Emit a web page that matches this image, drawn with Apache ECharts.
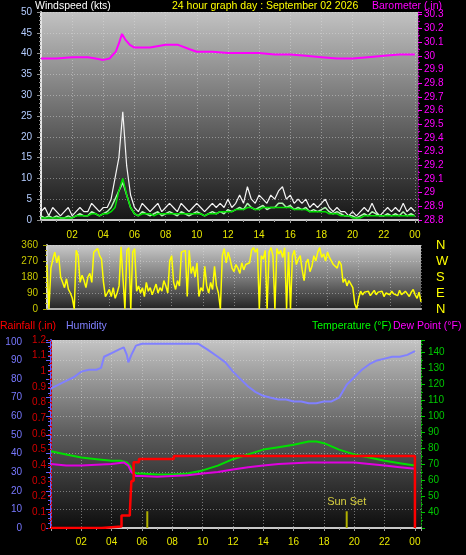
<!DOCTYPE html>
<html><head><meta charset="utf-8">
<script src="https://cdn.jsdelivr.net/npm/echarts@6/dist/echarts.min.js"></script>
<style>html,body{margin:0;padding:0;background:#000;}#c{width:466px;height:555px;}</style>
</head><body><div id="c"></div>
<script>
// ---------- DATA ----------
const WIND_STEP = 0.25; // hours between wind samples
const windGust = [
 2,3,1,3, 2,1,2,3, 1,2,3,2, 2,4,3,2, 3,3,5,10, 15,26,13,6,
 3,2,4,3, 2,3,4,2, 3,4,3,2, 4,3,2,3, 4,3,2,3, 4,3,4,3,
 5,3,4,6, 4,8,5,4, 6,5,4,6, 5,7,8,5, 6,4,5,4, 5,3,4,3,
 4,5,3,2, 3,2,2,1, 2,1,2,3, 2,4,2,1, 2,3,2,3, 2,4,2,3, 2];
const windAvg = [
 1,0.5,1,0.5, 1,0.5,0.5,1, 0.5,1,1.5,1, 1,2,1.5,1, 1.5,2,3,5, 7,9,6,3,
 1.5,1,2,1.5, 1,1.5,2,1, 1.5,2,1.5,1, 2,1.5,1,1.5, 2,1.5,1,1.5, 2,1.5,2,1.5,
 2.5,2,2.5,3, 2.5,4,3,2.5, 3,3.5,2.5,3, 3,4,4,3, 3.5,2.5,3,2.5, 3,2,2.5,2,
 2.5,3,2,1.5, 2,1.5,1,1, 1,0.5,1,1.5, 1,2,1.5,1, 1,1.5,1,1.5, 1,2,1,1.5, 1];
const windSmooth = [
 0.5,0.5,0.5,0.5, 0.5,0.5,0.5,0.5, 0.5,1,1,1, 1,1.5,1.5,1, 1.5,1.5,2,3, 7,10,6,3,
 1.5,1,1.5,1.5, 1.5,1,1.5,1.5, 1.5,1.5,1.5,1.5, 1.5,1.5,1.5,1.5, 1.5,1.5,1,1.5, 1.5,1.5,2,2,
 2,2,2.5,2.5, 2.5,3,3,2.5, 2.5,3,3,3, 3,3,3,3, 3,2.5,2.5,2.5, 2.5,2,2,2,
 2,2,1.5,1.5, 1.5,1,1,1, 0.5,0.5,0.5,1, 1,1,1,1, 1,1,1,1, 1,1,1,1, 1];

const pressHours = [0,1,2,3,3.5,4,4.4,4.8,5.0,5.2,5.4,5.7,6,7,8,8.8,9.5,10,11,12,13,14,15,16,17,18,19,20,21,22,23,24];
const pressVals  = [29.98,29.98,29.99,29.99,29.98,29.97,29.98,30.03,30.09,30.16,30.12,30.08,30.06,30.06,30.08,30.08,30.05,30.03,30.03,30.02,30.02,30.02,30.01,30.01,30.0,29.99,29.98,29.98,29.99,30.0,30.01,30.01];

const DIR_STEP = 0.125; // hours between direction samples
const windDir = [
 250,0,230,280,320,260,300,180,
 150,120,170,110,90,60,0,330,
 300,150,190,160,120,180,200,150,
 320,310,340,300,280,150,70,90,
 110,70,120,60,90,130,350,340,
 0,330,345,0,320,340,100,130,
 90,120,70,150,100,120,80,110,
 140,90,120,100,160,130,90,270,
 300,150,110,160,130,320,310,330,
 70,330,200,240,180,260,70,120,
 100,240,130,90,150,110,240,130,
 90,0,300,340,260,320,280,230,
 210,250,230,200,260,220,250,240,
 260,330,345,320,340,0,300,280,
 330,0,320,345,300,0,340,310,
 330,290,345,0,320,0,300,330,
 250,280,300,220,160,260,280,210,
 240,300,270,320,345,290,310,270,
 320,290,280,250,260,230,270,250,
 150,170,130,160,140,120,30,0,
 60,100,80,95,85,100,75,90,
 105,80,95,85,100,70,90,95,
 80,100,85,95,75,105,80,90,
 100,85,70,95,110,80,60,95,
 40];
const compass = {0:'N',90:'E',180:'S',270:'W',360:'N'};

const humHours = [0,0.5,1,1.5,2,2.5,3,3.3,3.5,4,4.5,4.8,5.0,5.1,5.3,5.6,6,7,8,9,9.7,10.3,11,11.5,12,12.5,13,13.5,14,14.5,15,15.5,16,16.5,17,17.5,18,18.5,19,19.5,20,20.5,21,21.5,22,22.5,23,23.5,24];
const humVals  = [75,77,79,81,84,85,85,86,92,94,96,97,93,89,93,98,99,99,99,99,99,96,92,89,84,80,76,73,71,70,69,69,68,68,67,67,68,68,70,77,81,85,88,90,91,92,92,93,95];

const tempHours = [0,1,2,3,4,4.6,5.0,5.2,5.4,5.7,6,7,8,9,10,11,12,13,14,15,16,17,17.5,18,18.5,19,20,21,22,23,24];
const tempVals  = [78,76,74,73,72,72,71,69,65,64,64,63.5,63.5,64,66,69,73,76,79,80.5,82,84,84,83,81,79,76,74,72,70.5,69];

const dewHours = [0,1,2,3,4,4.8,5.1,5.3,5.6,6,7,8,9,10,11,12,13,14,15,16,17,18,19,20,21,22,23,24];
const dewVals  = [70,69,69,69.5,70,71,69,65,62.5,62.5,62,62.5,63,64,65,66.5,68,69,70,70.5,71,71,71,71,70,69,68,67];

const rainHours = [0,3.35,4.65,5.2,5.3,5.45,5.8,8.1,24,24];
const rainVals  = [0,0.01,0.08,0.1,0.3,0.42,0.44,0.46,0.46,0];

const sunriseHour = 6.35, sunsetHour = 19.5, sunMarkHeight = 9;

// ---------- BUILD ----------
const FONT = '"Liberation Sans", Arial, sans-serif';
const TFONT = '10.5px ' + FONT;
const pair = (xs, ys) => ys.map((v, i) => [xs[i], v]);
const stepped = (ys, step) => ys.map((v, i) => [i * step, v]);
function hourLabel(v){
  if (v > 0 && v <= 24.0001 && Math.abs(v % 2) < 1e-6) { const h = Math.round(v) % 24; return (h < 10 ? '0' : '') + h; }
  return '';
}
function grad(c0, c1, c2){
  return {type:'linear',x:0,y:0,x2:0,y2:1,colorStops:[{offset:0,color:c0},{offset:0.5,color:c1},{offset:1,color:c2}]};
}
const split = {show:true, lineStyle:{color:'rgba(225,225,225,0.45)', type:[1,2], width:1}};
const lbl = (color, extra) => Object.assign({color:color, fontSize:10, fontFamily:FONT}, extra||{});

const chart = echarts.init(document.getElementById('c'), null, {renderer:'canvas'});
chart.setOption({
  backgroundColor:'#000',
  animation:false,
  grid:[
    {left:41, right:48, top:12, height:208, show:true, borderWidth:0, backgroundColor:grad('#c2c2c2','#6a6a6a','#161616')},
    {left:47, right:45, top:245, height:64, show:true, borderWidth:0, backgroundColor:grad('#c8c8c8','#7c7c7c','#242424')},
    {left:51, right:45, top:340, height:188, show:true, borderWidth:0, backgroundColor:grad('#c4c4c4','#5c5c5c','#0e0e0e')}
  ],
  xAxis:[
    {gridIndex:0, type:'value', min:0, max:24.2, interval:2,
     axisLabel:lbl('#e8e800',{formatter:hourLabel, margin:10}),
     axisLine:{show:true, lineStyle:{color:'#c8c8c8', width:2}},
     axisTick:{show:true, length:3, lineStyle:{color:'#a0a0a0'}},
     minorTick:{show:true, splitNumber:2, length:2, lineStyle:{color:'#a0a0a0'}},
     splitLine:split},
    {gridIndex:1, type:'value', min:0, max:24, interval:2,
     axisLabel:{show:false},
     axisLine:{show:true, lineStyle:{color:'#b0b0b0', width:2}},
     axisTick:{show:false},
     splitLine:split},
    {gridIndex:2, type:'value', min:0, max:24.4, interval:2,
     axisLabel:lbl('#e8e800',{formatter:hourLabel, margin:9}),
     axisLine:{show:true, lineStyle:{color:'#c8c8c8', width:2}},
     axisTick:{show:true, length:3, lineStyle:{color:'#a0a0a0'}},
     minorTick:{show:true, splitNumber:2, length:2, lineStyle:{color:'#a0a0a0'}},
     splitLine:split}
  ],
  yAxis:[
    {gridIndex:0, type:'value', position:'left', min:0, max:50, interval:5,
     axisLabel:lbl('#b4ccff',{margin:9}),
     axisLine:{show:true, lineStyle:{color:'#e4e4e4', width:2}},
     axisTick:{show:true, length:4, lineStyle:{color:'#909090'}},
     minorTick:{show:true, splitNumber:5, length:2, lineStyle:{color:'#909090'}},
     splitLine:split},
    {gridIndex:0, type:'value', position:'right', min:28.8, max:30.32, interval:0.1,
     axisLabel:lbl('#ff00ff',{margin:6, formatter:v=>{const r=Math.round(v*10)/10; return r>30.3001?'':r.toFixed(r%1===0?0:1);}}),
     axisLine:{show:true, lineStyle:{color:'#b000b0', width:1, type:[1,2]}},
     axisTick:{show:true, length:4, lineStyle:{color:'#ff00ff'}},
     minorTick:{show:true, splitNumber:2, length:2, lineStyle:{color:'#c000c0'}},
     splitLine:{show:false}},
    {gridIndex:1, type:'value', position:'left', min:0, max:360, interval:90,
     axisLabel:lbl('#c8c800',{margin:9}),
     axisLine:{show:true, lineStyle:{color:'#d0d0d0', width:2}},
     axisTick:{show:true, length:4, lineStyle:{color:'#a0a000'}},
     minorTick:{show:true, splitNumber:3, length:2, lineStyle:{color:'#a0a000'}},
     splitLine:split},
    {gridIndex:1, type:'value', position:'right', min:0, max:360, interval:90,
     axisLabel:{color:'#ffff00', fontSize:13, fontFamily:FONT, margin:15, formatter:v=>compass[Math.round(v)]||''},
     axisLine:{show:false}, axisTick:{show:false}, splitLine:{show:false}},
    {gridIndex:2, type:'value', position:'left', offset:21, min:0, max:101, interval:10,
     axisLabel:lbl('#7878ff',{margin:8, formatter:v=>(v<=100 && Math.abs(v%10)<1e-6)?String(Math.round(v)):''}),
     axisLine:{show:true, lineStyle:{color:'#6464ff', width:2}},
     axisTick:{show:true, length:5, lineStyle:{color:'#6464ff'}},
     minorTick:{show:true, splitNumber:4, length:3, lineStyle:{color:'#6464ff'}},
     splitLine:split},
    {gridIndex:2, type:'value', position:'left', offset:0, min:0, max:1.2, interval:0.1,
     axisLabel:lbl('#d40000',{margin:5, formatter:v=>{const r=Math.round(v*10)/10; return r.toFixed(r%1===0?0:1);}}),
     axisLine:{show:true, lineStyle:{color:'#d40000', width:1, type:[2,2]}},
     axisTick:{show:true, length:3, lineStyle:{color:'#d40000'}},
     minorTick:{show:true, splitNumber:2, length:2, lineStyle:{color:'#d40000'}},
     splitLine:{show:false}},
    {gridIndex:2, type:'value', position:'right', min:30, max:147.5, interval:10,
     axisLabel:lbl('#00c800',{margin:7, formatter:v=>(v>=40 && v<=140 && Math.abs(v%10)<1e-6)?String(Math.round(v)):''}),
     axisLine:{show:true, lineStyle:{color:'#00b000', width:1, type:[1,2]}},
     axisTick:{show:true, length:4, lineStyle:{color:'#00c800'}},
     minorTick:{show:true, splitNumber:2, length:2, lineStyle:{color:'#00b000'}},
     splitLine:{show:false}}
  ],
  graphic:[
    {type:'text', left:35, top:1, style:{text:'Windspeed (kts)', fill:'#ffffff', font:TFONT}},
    {type:'text', left:172, top:1, style:{text:'24 hour graph day : September 02 2026', fill:'#ffff00', font:TFONT}},
    {type:'text', left:372, top:1, style:{text:'Barometer (.in)', fill:'#ff00ff', font:TFONT}},
    {type:'text', left:0, top:321, style:{text:'Rainfall (.in)', fill:'#ff0000', font:TFONT}},
    {type:'text', left:66, top:321, style:{text:'Humidity', fill:'#8080ff', font:TFONT}},
    {type:'text', left:312, top:321, style:{text:'Temperature (°F)', fill:'#00ff00', font:TFONT}},
    {type:'text', left:393, top:321, style:{text:'Dew Point (°F)', fill:'#ff00ff', font:TFONT}}
  ],
  series:[
    {name:'gust', type:'line', xAxisIndex:0, yAxisIndex:0, data:stepped(windGust, WIND_STEP), symbol:'none', lineStyle:{color:'#f4f4f4', width:1.2}, z:2},
    {name:'avg', type:'line', xAxisIndex:0, yAxisIndex:0, data:stepped(windAvg, WIND_STEP), symbol:'none', lineStyle:{color:'#b4f4b4', width:1.5}, z:3},
    {name:'smooth', type:'line', xAxisIndex:0, yAxisIndex:0, data:stepped(windSmooth, WIND_STEP), symbol:'none', lineStyle:{color:'#00e000', width:1.5}, z:4},
    {name:'baro', type:'line', xAxisIndex:0, yAxisIndex:1, data:pair(pressHours, pressVals), symbol:'none', lineStyle:{color:'#ff00ff', width:2}, z:5},
    {name:'dir', type:'line', xAxisIndex:1, yAxisIndex:2, data:stepped(windDir, DIR_STEP), symbol:'none', lineStyle:{color:'#ffff00', width:1.5}},
    {name:'hum', type:'line', xAxisIndex:2, yAxisIndex:4, data:pair(humHours, humVals), symbol:'none', lineStyle:{color:'#8080ff', width:2}},
    {name:'temp', type:'line', xAxisIndex:2, yAxisIndex:6, data:pair(tempHours, tempVals), symbol:'none', lineStyle:{color:'#00e000', width:2}},
    {name:'dew', type:'line', xAxisIndex:2, yAxisIndex:6, data:pair(dewHours, dewVals), symbol:'none', lineStyle:{color:'#e000e0', width:2}},
    {name:'rain', type:'line', xAxisIndex:2, yAxisIndex:5, data:pair(rainHours, rainVals), step:'end', symbol:'none', lineStyle:{color:'#ff0000', width:2.5}, z:6},
    {name:'sunrise', type:'line', xAxisIndex:2, yAxisIndex:4, data:[[sunriseHour,0],[sunriseHour,sunMarkHeight]], symbol:'none', lineStyle:{color:'#b0b000', width:2}},
    {name:'sunset', type:'line', xAxisIndex:2, yAxisIndex:4, symbol:'none', lineStyle:{color:'#b0b000', width:2},
     data:[[sunsetHour,0],[sunsetHour,sunMarkHeight]],
     markPoint:{symbol:'circle', symbolSize:1, itemStyle:{color:'rgba(0,0,0,0)'},
       label:{show:true, position:'top', distance:3, formatter:'Sun Set', color:'#d8d040', fontSize:11, fontFamily:FONT},
       data:[{coord:[sunsetHour, sunMarkHeight]}]}}
  ]
});
</script></body></html>
